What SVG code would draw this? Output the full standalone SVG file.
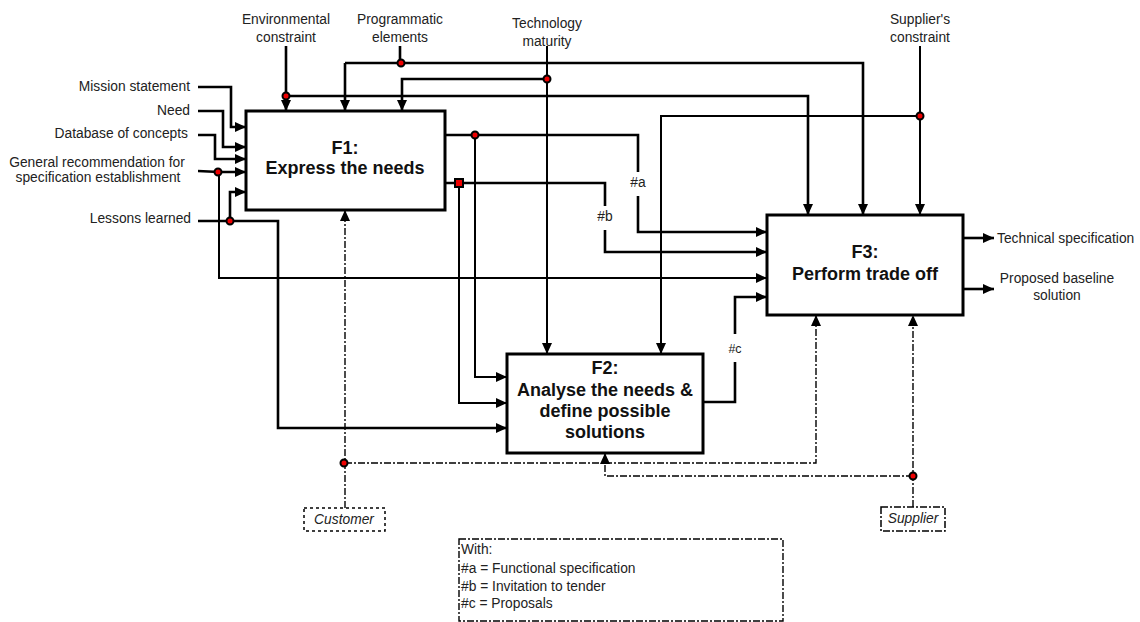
<svg xmlns="http://www.w3.org/2000/svg" width="1140" height="622" viewBox="0 0 1140 622">
<style>
text{font-family:"Liberation Sans",Arial,sans-serif;fill:#222}
.lbl{font-size:13.8px}
.ttl{font-size:18px;font-weight:bold;fill:#111;text-anchor:middle}
.box{fill:#fff;stroke:#000;stroke-width:3}
.c{fill:none;stroke:#000;stroke-width:2.6}
.t{fill:none;stroke:#000;stroke-width:2}
.d{fill:none;stroke:#000;stroke-width:1.4;stroke-dasharray:7 2 2 2}
.j{fill:#e00;stroke:#000;stroke-width:2}
.mid{text-anchor:middle}
.end{text-anchor:end}
</style>
<defs>
<marker id="ah" markerWidth="11" markerHeight="10" refX="11" refY="5" orient="auto" markerUnits="userSpaceOnUse">
<path d="M0,0 L11,5 L0,10 z" fill="#000"/>
</marker>
</defs>
<rect width="1140" height="622" fill="#fff"/>

<g id="connectors">
<path class="c" d="M198,87 H231 V127 H246" marker-end="url(#ah)"/>
<path class="c" d="M198,111 H223 V147 H246" marker-end="url(#ah)"/>
<path class="c" d="M198,135 H215 V159 H246" marker-end="url(#ah)"/>
<path class="c" d="M198,171 L219,172 H246" marker-end="url(#ah)"/>
<path class="t" d="M219,172 V278 H767" marker-end="url(#ah)"/>
<path class="c" d="M198,221 H278 V428 H507" marker-end="url(#ah)"/>
<path class="c" d="M230,221 V192 H246" marker-end="url(#ah)"/>
<path class="c" d="M286,46 V111" marker-end="url(#ah)"/>
<path class="c" d="M286,96 H808 V215" marker-end="url(#ah)"/>
<path class="c" d="M400,46 V63"/>
<path class="c" d="M345,63 V111" marker-end="url(#ah)"/>
<path class="c" d="M345,63 H863 V215" marker-end="url(#ah)"/>
<path class="t" d="M547,46 V354" marker-end="url(#ah)"/>
<path class="c" d="M547,79 H402 V111" marker-end="url(#ah)"/>
<path class="t" d="M920,46 V215" marker-end="url(#ah)"/>
<path class="t" d="M920,116 H661 V354" marker-end="url(#ah)"/>
<path class="c" d="M445,135 H638 V172"/>
<path class="c" d="M638,196 V232 H767" marker-end="url(#ah)"/>
<path class="t" d="M475,135 V377 H507" marker-end="url(#ah)"/>
<path class="c" d="M445,183 H605 V206"/>
<path class="c" d="M605,230 V252 H767" marker-end="url(#ah)"/>
<path class="t" d="M459,183 V403 H507" marker-end="url(#ah)"/>
<path class="c" d="M703,402 H735 V362"/>
<path class="c" d="M735,334 V297 H767" marker-end="url(#ah)"/>
<path class="c" d="M963,238 H994" marker-end="url(#ah)"/>
<path class="c" d="M963,289 H994" marker-end="url(#ah)"/>
<path class="d" d="M345,508 V210" marker-end="url(#ah)"/>
<path class="d" d="M345,463 H816 V315" marker-end="url(#ah)"/>
<path class="d" d="M913,507 V315" marker-end="url(#ah)"/>
<path class="d" d="M913,476 H605 V453" marker-end="url(#ah)"/>
<circle class="j" cx="286" cy="96" r="3.5"/>
<circle class="j" cx="401" cy="63" r="3.5"/>
<circle class="j" cx="547" cy="79" r="3.5"/>
<circle class="j" cx="920" cy="116" r="3.5"/>
<circle class="j" cx="475" cy="135" r="3.5"/>
<rect class="j" x="455" y="179" width="8" height="8"/>
<circle class="j" cx="218" cy="172" r="3.5"/>
<circle class="j" cx="230" cy="221" r="3.5"/>
<circle class="j" cx="344" cy="463" r="3.5"/>
<circle class="j" cx="913" cy="476" r="3.5"/>
<text class="lbl mid" x="638" y="187">#a</text>
<text class="lbl mid" x="605" y="221">#b</text>
<text class="mid" x="735" y="353" font-size="12.5">#c</text>
</g>

<g id="labels">
<text class="lbl mid" x="286" y="24">Environmental</text>
<text class="lbl mid" x="286" y="42">constraint</text>
<text class="lbl mid" x="400" y="24">Programmatic</text>
<text class="lbl mid" x="400" y="42">elements</text>
<text class="lbl mid" x="547" y="28">Technology</text>
<text class="lbl mid" x="547" y="46">maturity</text>
<text class="lbl mid" x="920" y="24">Supplier's</text>
<text class="lbl mid" x="920" y="42">constraint</text>
<text class="lbl end" x="190" y="91">Mission statement</text>
<text class="lbl end" x="190" y="115">Need</text>
<text class="lbl end" x="188" y="138">Database of concepts</text>
<text class="lbl mid" x="97" y="167">General recommendation for</text>
<text class="lbl mid" x="98" y="182">specification establishment</text>
<text class="lbl end" x="191" y="223">Lessons learned</text>
<text class="lbl" x="997" y="243">Technical specification</text>
<text class="lbl mid" x="1057" y="283">Proposed baseline</text>
<text class="lbl mid" x="1057" y="300">solution</text>
</g>

<g id="F1">
<rect class="box" x="246" y="111" width="199" height="99"/>
<text class="ttl" x="345" y="154">F1:</text>
<text class="ttl" x="345" y="174">Express the needs</text>
</g>
<g id="F2">
<rect class="box" x="507" y="354" width="196" height="99"/>
<text class="ttl" x="605" y="374">F2:</text>
<text class="ttl" x="605" y="396">Analyse the needs &amp;</text>
<text class="ttl" x="605" y="417">define possible</text>
<text class="ttl" x="605" y="438">solutions</text>
</g>
<g id="F3">
<rect class="box" x="767" y="215" width="196" height="100"/>
<text class="ttl" x="865" y="258">F3:</text>
<text class="ttl" x="865" y="280">Perform trade off</text>
</g>
<g id="Customer">
<rect x="304" y="508" width="81" height="23" fill="#fff" stroke="#000" stroke-width="1.5" stroke-dasharray="3 3"/>
<text class="lbl mid" x="344" y="524" font-style="italic">Customer</text>
</g>
<g id="Supplier">
<rect x="881" y="507" width="64" height="24" fill="#fff" stroke="#000" stroke-width="1.5" stroke-dasharray="7 2 2 2"/>
<text class="lbl mid" x="913" y="523" font-style="italic">Supplier</text>
</g>
<g id="legend">
<rect x="459" y="539" width="324" height="82" fill="#fff" stroke="#000" stroke-width="1.4" stroke-dasharray="7 2 2 2"/>
<text class="lbl" x="461" y="554">With:</text>
<text class="lbl" x="461" y="573">#a = Functional specification</text>
<text class="lbl" x="461" y="591">#b = Invitation to tender</text>
<text class="lbl" x="461" y="608">#c = Proposals</text>
</g>
</svg>
